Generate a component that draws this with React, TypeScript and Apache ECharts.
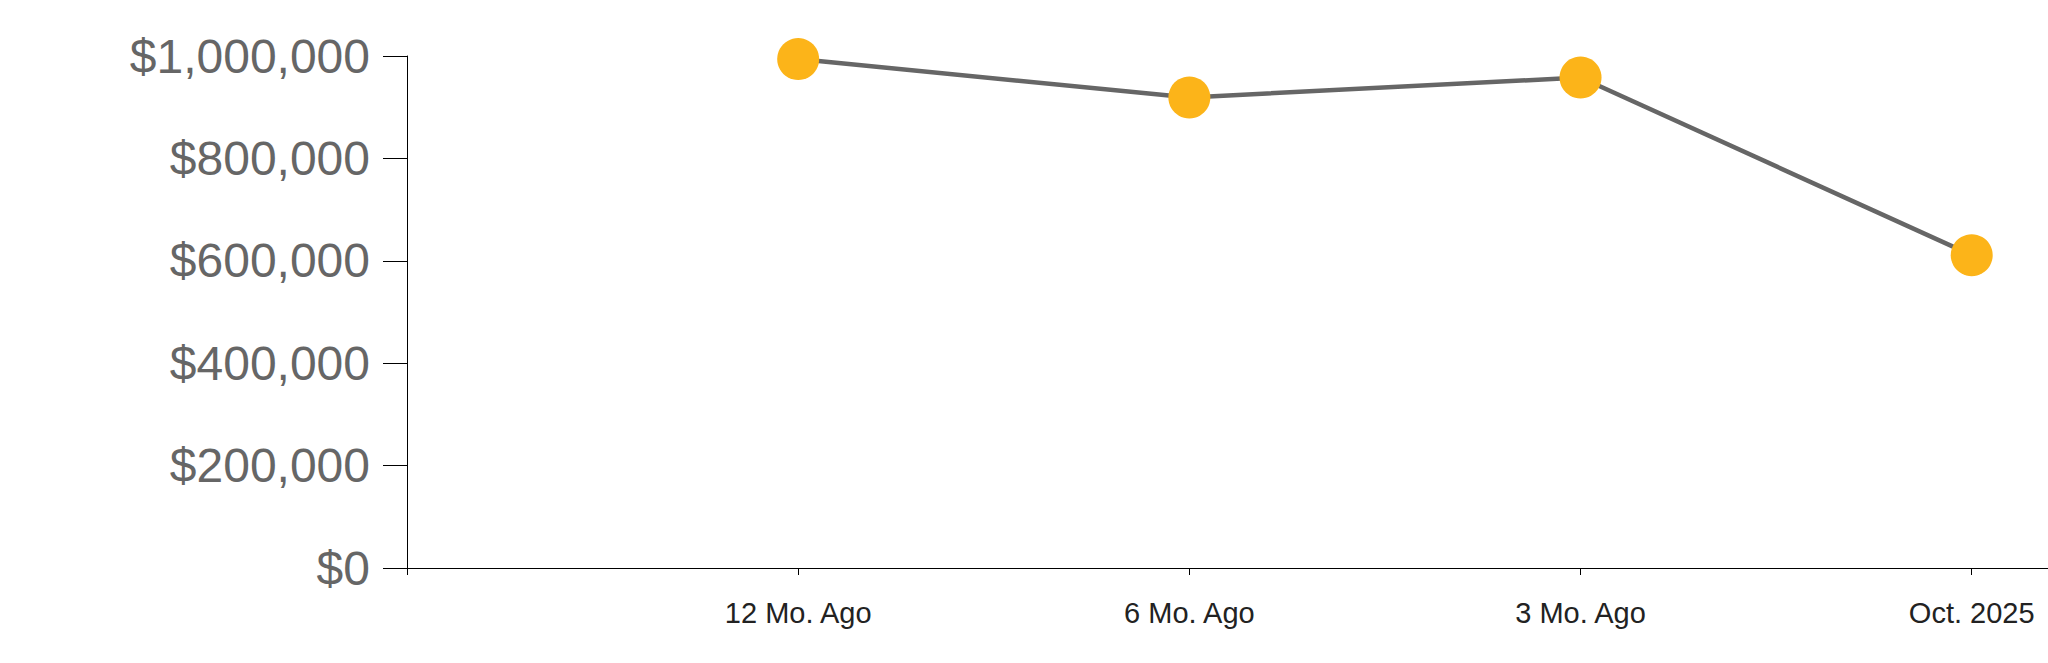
import React, { useEffect, useRef } from "react";
import * as echarts from "echarts";

const categories = ["", "12 Mo. Ago", "6 Mo. Ago", "3 Mo. Ago", "Oct. 2025"];
const values = [994000, 919000, 958000, 611000];
const yTicks = [0, 200000, 400000, 600000, 800000, 1000000];

export default function App() {
  const ref = useRef<HTMLDivElement>(null);
  useEffect(() => {
    if (!ref.current) return;
    const chart = echarts.init(ref.current, null, { renderer: "svg" });
    const points = values.map((v, i) => [i + 1, v]);
    chart.setOption({
      animation: false,
      backgroundColor: "#ffffff",
      grid: { left: 407, right: 0, top: 56, bottom: 95, containLabel: false },
      xAxis: {
        type: "value",
        min: 0,
        max: 4.195,
        interval: 1,
        splitLine: { show: false },
        axisLine: { show: true, lineStyle: { color: "#000", width: 1 } },
        axisTick: {
          show: true,
          length: 7,
          lineStyle: { color: "#000", width: 1 },
          customValues: [0, 1, 2, 3, 4],
        },
        axisLabel: {
          show: true,
          margin: 30,
          fontSize: 29,
          color: "#222",
          fontFamily: "Liberation Sans, Arial, sans-serif",
          customValues: [1, 2, 3, 4],
          formatter: (v: number) => categories[Math.round(v)] ?? "",
        },
      },
      yAxis: {
        type: "value",
        min: 0,
        max: 1000000,
        interval: 200000,
        splitLine: { show: false },
        axisLine: { show: true, lineStyle: { color: "#000", width: 1 } },
        axisTick: { show: true, length: 24, lineStyle: { color: "#000", width: 1 } },
        axisLabel: {
          margin: 37,
          fontSize: 48,
          color: "#666",
          fontFamily: "Liberation Sans, Arial, sans-serif",
          customValues: yTicks,
          formatter: (v: number) => "$" + v.toLocaleString("en-US"),
        },
      },
      series: [
        {
          type: "line",
          data: points,
          symbol: "circle",
          symbolSize: 42,
          lineStyle: { color: "#666666", width: 4.5 },
          itemStyle: { color: "#FCB419", borderWidth: 0 },
          z: 3,
        },
      ],
    });
    return () => chart.dispose();
  }, []);
  return (
    <div
      ref={ref}
      style={{ position: "fixed", left: 0, top: 0, width: 2048, height: 663 }}
    />
  );
}
